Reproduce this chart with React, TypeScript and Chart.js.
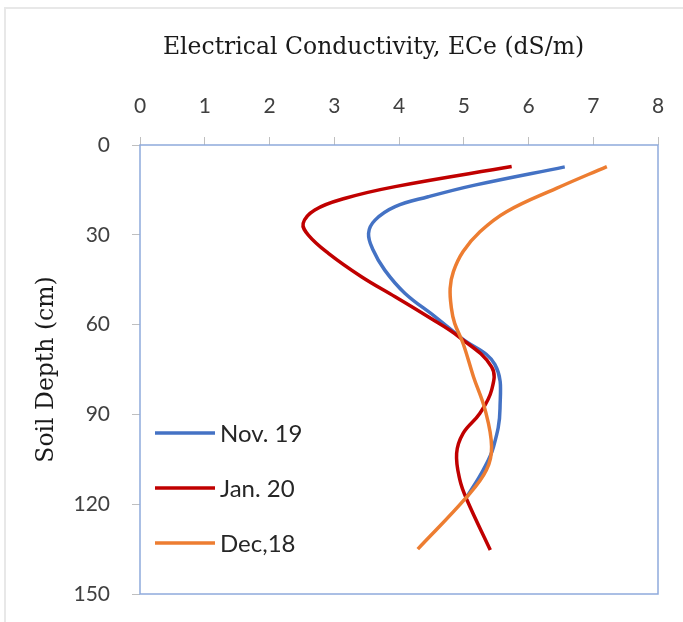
import React, { useEffect, useRef } from "react";
import { Chart, registerables } from "chart.js";

Chart.register(...registerables);

const ecTickValues = [0, 1, 2, 3, 4, 5, 6, 7, 8];
const depthTickValues = [0, 30, 60, 90, 120, 150];
const seriesNames = ["Nov. 19", "Jan. 20", "Dec,18"];
const seriesColors = ["#4472C4", "#C00000", "#ED7D31"];
const xTitle = "Electrical Conductivity, ECe (dS/m)";
const yTitle = "Soil Depth (cm)";

const nov19Depth = [7.3, 13.4, 17.3, 20.6, 25.1, 29.5, 35.1, 41.8, 49.5, 57.4, 64.6, 73.3, 88, 100.8, 108.6, 117.5];
const nov19EC = [6.56, 5.17, 4.45, 3.94, 3.63, 3.53, 3.6, 3.78, 4.09, 4.56, 4.97, 5.48, 5.56, 5.46, 5.3, 5.05];

const jan20Depth = [7.2, 13.9, 17.8, 21.7, 26.2, 30.1, 36.2, 44, 50.7, 57.4, 64, 74.1, 81.9, 89.6, 96.3, 103, 111.9, 118.6, 135.3];
const jan20EC = [5.74, 3.94, 3.17, 2.7, 2.52, 2.6, 2.91, 3.42, 3.94, 4.45, 4.92, 5.43, 5.43, 5.25, 4.99, 4.89, 4.94, 5.05, 5.41];

const dec18Depth = [7.2, 14.5, 22.3, 29, 35.6, 42.3, 47.9, 54.6, 59.6, 66.3, 77.4, 88.5, 100.8, 108.6, 117.5, 135];
const dec18EC = [7.21, 6.43, 5.66, 5.25, 4.99, 4.84, 4.79, 4.81, 4.86, 4.99, 5.15, 5.33, 5.43, 5.35, 5.05, 4.29];

const TITLE_FONT = "23.5px 'DejaVu Serif'";

export default function App() {
  const ref = useRef<HTMLCanvasElement>(null);

  useEffect(() => {
    if (!ref.current) return;
    const mk = (d: number[], e: number[]) => d.map((y, i) => ({ x: e[i], y }));
    const series = [mk(nov19Depth, nov19EC), mk(jan20Depth, jan20EC), mk(dec18Depth, dec18EC)];
    const orders = [3, 2, 1];

    const framePlugin = {
      id: "plotFrame",
      beforeDatasetsDraw(chart: any) {
        const { ctx, chartArea: a } = chart;
        ctx.save();
        ctx.strokeStyle = "#8FAADC";
        ctx.lineWidth = 1.5;
        ctx.strokeRect(a.left, a.top, a.right - a.left, a.bottom - a.top);
        ctx.restore();
      },
      afterDraw(chart: any) {
        const { ctx, chartArea: a } = chart;
        ctx.save();
        ctx.font = TITLE_FONT;
        ctx.fillStyle = "#1a1a1a";
        ctx.textAlign = "center";
        ctx.textBaseline = "middle";
        ctx.fillText(xTitle, a.left + 233.5, 48);
        ctx.restore();
      },
    };

    const legendPlugin = {
      id: "insideLegend",
      afterDatasetsDraw(chart: any) {
        const { ctx, chartArea: a } = chart;
        ctx.save();
        ctx.font = "24px Lato";
        ctx.textBaseline = "middle";
        ctx.textAlign = "left";
        seriesNames.forEach((name, i) => {
          const y = a.top + 288 + i * 55;
          ctx.strokeStyle = seriesColors[i];
          ctx.lineWidth = 3.5;
          ctx.beginPath();
          ctx.moveTo(a.left + 15, y);
          ctx.lineTo(a.left + 75, y);
          ctx.stroke();
          ctx.fillStyle = "#262626";
          ctx.fillText(name, a.left + 80, y + 1);
        });
        ctx.restore();
      },
    };

    const chart = new Chart(ref.current, {
      type: "scatter",
      data: {
        datasets: series.map((data, i) => ({
          label: seriesNames[i],
          data,
          showLine: true,
          borderColor: seriesColors[i],
          backgroundColor: seriesColors[i],
          borderWidth: 3.5,
          pointRadius: 0,
          pointHoverRadius: 0,
          tension: 0.4,
          order: orders[i],
        })),
      },
      options: {
        animation: false,
        responsive: false,
        maintainAspectRatio: false,
        layout: { padding: { left: 0, right: 25, top: 0, bottom: 28 } },
        plugins: {
          legend: { display: false },
          tooltip: { enabled: false },
          title: { display: false },
        },
        scales: {
          x: {
            type: "linear",
            position: "top",
            min: 0,
            max: 8,
            afterBuildTicks: (s: any) => {
              s.ticks = ecTickValues.map((v) => ({ value: v }));
            },
            ticks: { font: { family: "Lato", size: 21 }, color: "#404040", padding: 18 },
            grid: { drawOnChartArea: false, tickLength: 8, color: "#bfbfbf", lineWidth: 1 },
            border: { display: false },
            afterFit: (s: any) => {
              s.height = 145;
              s.paddingLeft = 0;
              s.paddingRight = 0;
            },
          },
          y: {
            type: "linear",
            position: "left",
            reverse: true,
            min: 0,
            max: 150,
            afterBuildTicks: (s: any) => {
              s.ticks = depthTickValues.map((v) => ({ value: v }));
            },
            ticks: { font: { family: "Lato", size: 21 }, color: "#404040", padding: 22 },
            grid: { drawOnChartArea: false, tickLength: 8, color: "#bfbfbf", lineWidth: 1 },
            border: { display: false },
            title: {
              display: true,
              text: yTitle,
              font: { family: "DejaVu Serif", size: 23.5, weight: "normal" },
              color: "#1a1a1a",
              padding: { top: 33, bottom: 0 },
            },
            afterFit: (s: any) => {
              s.width = 140;
              s.paddingTop = 0;
              s.paddingBottom = 0;
            },
          },
        },
      } as any,
      plugins: [framePlugin, legendPlugin],
    });
    return () => chart.destroy();
  }, []);

  return (
    <div
      style={{
        position: "absolute",
        left: 0,
        top: 0,
        width: 683,
        height: 622,
        overflow: "hidden",
        background: "#fff",
      }}
    >
      <div
        style={{
          position: "absolute",
          left: 4,
          top: 7,
          width: 800,
          height: 800,
          borderLeft: "2px solid #e8e8e8",
          borderTop: "2px solid #e8e8e8",
        }}
      />
      <canvas ref={ref} width={683} height={622} style={{ position: "absolute", left: 0, top: 0 }} />
    </div>
  );
}
